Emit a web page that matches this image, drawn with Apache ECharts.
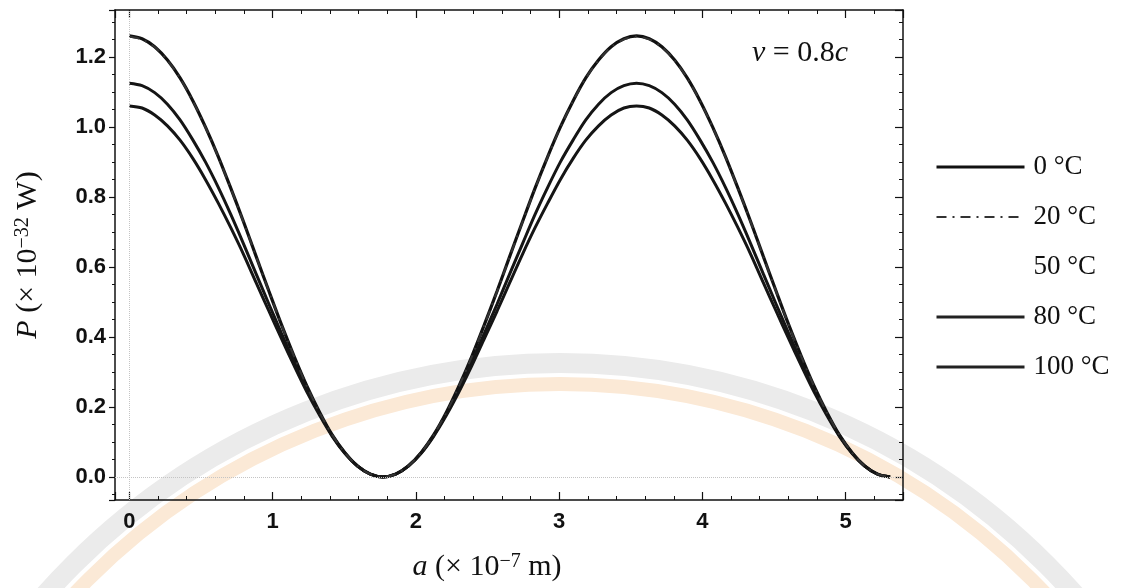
<!DOCTYPE html>
<html>
<head>
<meta charset="utf-8">
<script src="https://cdn.jsdelivr.net/npm/echarts@6/dist/echarts.min.js"></script>
<style>
  html, body { margin: 0; padding: 0; background: #fff; }
  #chart { width: 1126px; height: 588px; }
</style>
</head>
<body>
<div id="chart"></div>
<script>
// a (x 10^-7 m) sample positions
var aValues = [0, 0.089, 0.177, 0.266, 0.354, 0.443, 0.531, 0.62, 0.708, 0.797,
  0.885, 0.974, 1.062, 1.151, 1.239, 1.328, 1.416, 1.505, 1.593, 1.682,
  1.77, 1.859, 1.947, 2.036, 2.124, 2.213, 2.301, 2.39, 2.478, 2.567,
  2.655, 2.744, 2.832, 2.921, 3.009, 3.098, 3.186, 3.275, 3.363, 3.452,
  3.54, 3.629, 3.717, 3.806, 3.894, 3.983, 4.071, 4.16, 4.248, 4.337,
  4.425, 4.514, 4.602, 4.691, 4.779, 4.868, 4.956, 5.045, 5.133, 5.222, 5.31];

// P (x 10^-32 W)
var p0 = [1.26, 1.252, 1.229, 1.191, 1.14, 1.075, 1.0, 0.916, 0.825, 0.729,
  0.63, 0.531, 0.435, 0.344, 0.26, 0.185, 0.12, 0.069, 0.031, 0.008,
  0.0, 0.008, 0.031, 0.069, 0.12, 0.185, 0.26, 0.344, 0.435, 0.531,
  0.63, 0.729, 0.825, 0.916, 1.0, 1.075, 1.14, 1.191, 1.229, 1.252,
  1.26, 1.252, 1.229, 1.191, 1.14, 1.075, 1.0, 0.916, 0.825, 0.729,
  0.63, 0.531, 0.435, 0.344, 0.26, 0.185, 0.12, 0.069, 0.031, 0.008, 0.0];
var p20 = [1.258, 1.25, 1.228, 1.19, 1.139, 1.074, 0.999, 0.915, 0.824, 0.728,
  0.629, 0.53, 0.434, 0.343, 0.259, 0.184, 0.12, 0.069, 0.031, 0.008,
  0.0, 0.008, 0.031, 0.069, 0.12, 0.184, 0.259, 0.343, 0.434, 0.53,
  0.629, 0.728, 0.824, 0.915, 0.999, 1.074, 1.139, 1.19, 1.228, 1.25,
  1.258, 1.25, 1.228, 1.19, 1.139, 1.074, 0.999, 0.915, 0.824, 0.728,
  0.629, 0.53, 0.434, 0.343, 0.259, 0.184, 0.12, 0.069, 0.031, 0.008, 0.0];
var p50 = p0.slice();
var p80 = [1.125, 1.118, 1.098, 1.065, 1.02, 0.963, 0.9, 0.828, 0.75, 0.666,
  0.58, 0.494, 0.41, 0.327, 0.25, 0.18, 0.118, 0.068, 0.031, 0.008,
  0.0, 0.008, 0.031, 0.068, 0.118, 0.18, 0.25, 0.327, 0.41, 0.494,
  0.58, 0.666, 0.75, 0.828, 0.9, 0.963, 1.02, 1.065, 1.098, 1.118,
  1.125, 1.118, 1.098, 1.065, 1.02, 0.963, 0.9, 0.828, 0.75, 0.666,
  0.58, 0.494, 0.41, 0.327, 0.25, 0.18, 0.118, 0.068, 0.031, 0.008, 0.0];
var p100 = [1.06, 1.054, 1.034, 1.003, 0.962, 0.91, 0.85, 0.783, 0.712, 0.636,
  0.555, 0.474, 0.395, 0.317, 0.243, 0.176, 0.116, 0.067, 0.031, 0.008,
  0.0, 0.008, 0.031, 0.067, 0.116, 0.176, 0.243, 0.317, 0.395, 0.474,
  0.555, 0.636, 0.712, 0.783, 0.85, 0.91, 0.962, 1.003, 1.034, 1.054,
  1.06, 1.054, 1.034, 1.003, 0.962, 0.91, 0.85, 0.783, 0.712, 0.636,
  0.555, 0.474, 0.395, 0.317, 0.243, 0.176, 0.116, 0.067, 0.031, 0.008, 0.0];

var seriesNames = ['0 °C', '20 °C', '50 °C', '80 °C', '100 °C'];

function pairs(ys) {
  return aValues.map(function (a, i) { return [a, ys[i]]; });
}

var serif = '"Liberation Serif", "DejaVu Serif", serif';
var sans = '"Liberation Sans", Arial, sans-serif';
var ink = '#111';
var dashDot = [10, 6, 2, 6];

var titleRich = {
  i: { fontFamily: serif, fontSize: 30, fontStyle: 'italic', color: ink },
  n: { fontFamily: serif, fontSize: 30, color: ink },
  s: { fontFamily: serif, fontSize: 20, color: ink, verticalAlign: 'top' }
};

var frameLine = { show: true, onZero: false, lineStyle: { color: ink, width: 1.5 } };

var chart = echarts.init(document.getElementById('chart'));

chart.setOption({
  animation: false,
  backgroundColor: '#fff',
  grid: { left: 115, right: 223, top: 10, bottom: 88 },
  legend: {
    orient: 'vertical',
    left: 930,
    top: 148,
    itemWidth: 88,
    itemHeight: 14,
    itemGap: 22,
    itemStyle: { opacity: 0 },
    data: [
      { name: seriesNames[0], lineStyle: { width: 3, color: ink } },
      { name: seriesNames[1], lineStyle: { width: 2, color: '#333', type: dashDot } },
      { name: seriesNames[2] },
      { name: seriesNames[3], lineStyle: { width: 3, color: '#222' } },
      { name: seriesNames[4], lineStyle: { width: 3, color: '#222' } }
    ],
    textStyle: { fontFamily: serif, fontSize: 27, color: ink, lineHeight: 28, padding: [0, 0, 0, 4] }
  },
  xAxis: [
    {
      type: 'value', position: 'bottom', min: -0.1, max: 5.4, splitNumber: 5,
      name: '{i|a}{n| (× 10}{s|−7}{n| m)}', nameLocation: 'middle', nameGap: 52,
      nameTextStyle: { rich: titleRich, padding: [0, 44, 0, 0] },
      axisLine: frameLine, splitLine: { show: false },
      axisTick: { inside: true, length: 8, lineStyle: { color: ink, width: 1.2 } },
      minorTick: { show: true, splitNumber: 5, length: 4, lineStyle: { color: ink } },
      axisLabel: { margin: 11, fontFamily: sans, fontWeight: 'bold', fontSize: 22, color: ink, showMinLabel: false, showMaxLabel: false }
    },
    {
      type: 'value', position: 'top', min: -0.1, max: 5.4, splitNumber: 5,
      axisLine: frameLine, splitLine: { show: false },
      axisTick: { inside: true, length: 8, lineStyle: { color: ink, width: 1.2 } },
      minorTick: { show: true, splitNumber: 5, length: 4, lineStyle: { color: ink } },
      axisLabel: { show: false }
    }
  ],
  yAxis: [
    {
      type: 'value', position: 'left', min: -0.066, max: 1.334, splitNumber: 7,
      name: '{i|P}{n| (× 10}{s|−32}{n| W)}', nameLocation: 'middle', nameGap: 72, nameRotate: 90,
      nameTextStyle: { rich: titleRich },
      axisLine: frameLine, splitLine: { show: false },
      axisTick: { inside: false, length: 6, lineStyle: { color: ink, width: 1.2 } },
      minorTick: { show: true, splitNumber: 4, length: 3, lineStyle: { color: ink } },
      axisLabel: {
        margin: 9, fontFamily: sans, fontWeight: 'bold', fontSize: 22, color: ink,
        showMinLabel: false, showMaxLabel: false,
        formatter: function (v) { return v.toFixed(1); }
      }
    },
    {
      type: 'value', position: 'right', min: -0.066, max: 1.334, splitNumber: 7,
      axisLine: frameLine, splitLine: { show: false },
      axisTick: { inside: true, length: 8, lineStyle: { color: ink, width: 1.2 } },
      minorTick: { show: true, splitNumber: 4, length: 4, lineStyle: { color: ink } },
      axisLabel: { show: false }
    }
  ],
  graphic: [
    // faint scanned watermark rings behind the plot
    { type: 'circle', z: -10, silent: true, shape: { cx: 560, cy: 1051, r: 688 },
      style: { fill: 'none', stroke: '#ebebeb', lineWidth: 20 } },
    { type: 'circle', z: -10, silent: true, shape: { cx: 560, cy: 1051, r: 667 },
      style: { fill: 'none', stroke: '#fbe9d6', lineWidth: 14 } },
    {
      type: 'text',
      left: 752,
      top: 38,
      z: 10,
      style: {
        text: '{i|v}{n| = 0.8}{i|c}',
        fill: ink,
        rich: {
          i: { fontFamily: serif, fontSize: 30, fontStyle: 'italic', fill: ink },
          n: { fontFamily: serif, fontSize: 30, fill: ink }
        }
      }
    }
  ],
  series: [
    {
      name: seriesNames[2], type: 'line', data: pairs(p50), symbol: 'none', smooth: 0.3, z: 1,
      lineStyle: { color: '#fff', width: 3, opacity: 0 }, itemStyle: { color: '#fff', opacity: 0 }
    },
    {
      name: seriesNames[0], type: 'line', data: pairs(p0), symbol: 'none', smooth: 0.3, z: 2,
      lineStyle: { color: ink, width: 3.2 }, itemStyle: { color: ink },
      markLine: {
        silent: true, symbol: 'none', label: { show: false },
        lineStyle: { color: '#c4c4c4', type: 'dotted', width: 1 },
        data: [{ xAxis: 0 }, { yAxis: 0 }]
      }
    },
    {
      name: seriesNames[1], type: 'line', data: pairs(p20), symbol: 'none', smooth: 0.3, z: 3,
      lineStyle: { color: '#333', width: 2, type: dashDot }, itemStyle: { color: '#333' }
    },
    {
      name: seriesNames[3], type: 'line', data: pairs(p80), symbol: 'none', smooth: 0.3, z: 2,
      lineStyle: { color: '#151515', width: 3 }, itemStyle: { color: '#151515' }
    },
    {
      name: seriesNames[4], type: 'line', data: pairs(p100), symbol: 'none', smooth: 0.3, z: 2,
      lineStyle: { color: '#151515', width: 3 }, itemStyle: { color: '#151515' }
    }
  ]
});
</script>
</body>
</html>
